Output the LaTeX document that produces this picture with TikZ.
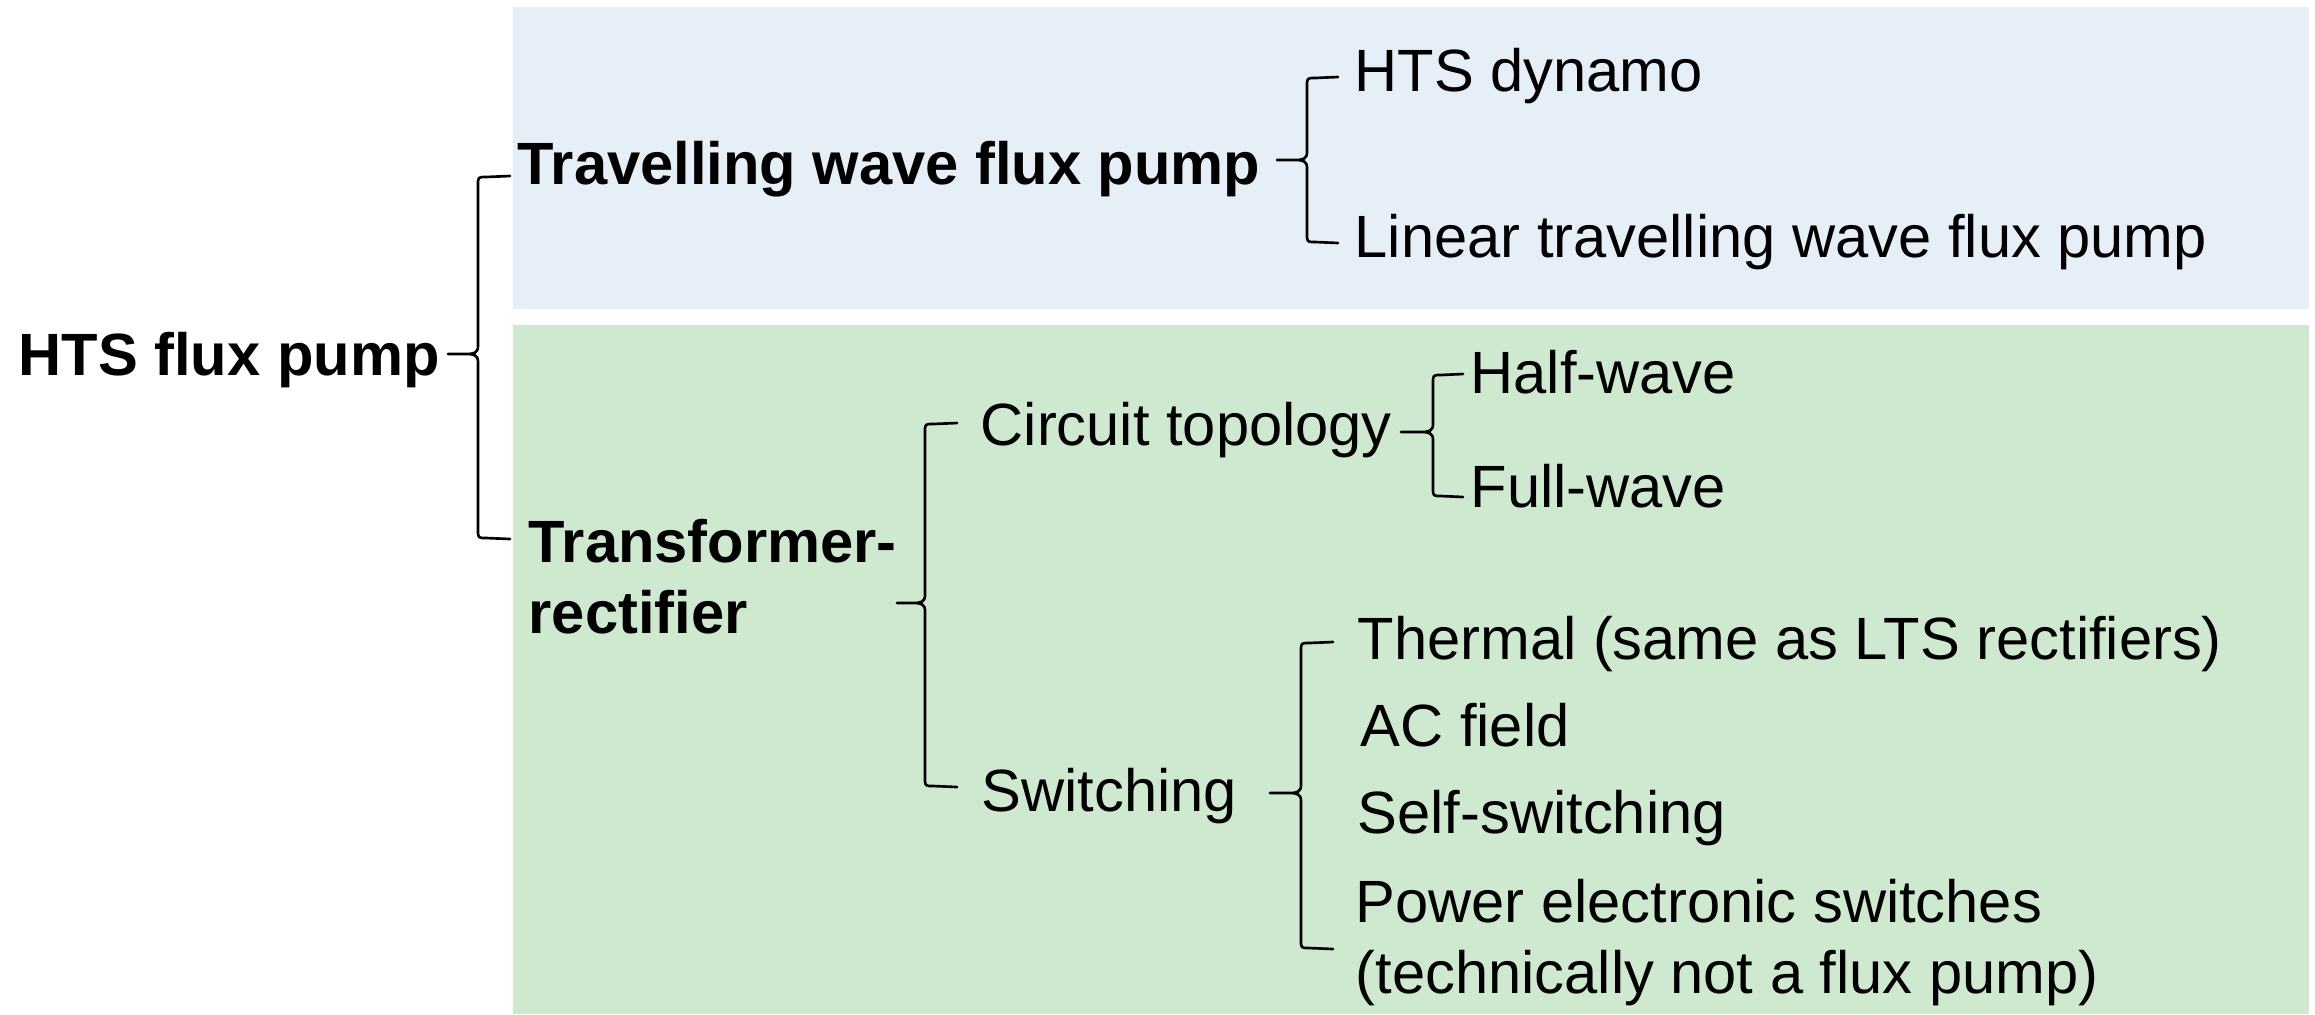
\documentclass[tikz,border=0pt]{standalone}
\usepackage{fontspec}
\setmainfont{Liberation Sans}
\definecolor{bluebg}{RGB}{230,238,248}
\definecolor{greenbg}{RGB}{207,232,208}
\newcommand\mybrace[6]{% xt ym xv yt yb xe
  \draw[bracestroke] (#6,#4) -- (#3+8,#4+1) .. controls (#3,#4+1) .. (#3,#4+9)
    -- (#3,#2-8) .. controls (#3,#2-1) and (#3-4,#2) .. (#3-12,#2) -- (#1,#2)
    (#3-12,#2) .. controls (#3-4,#2) and (#3,#2+1) .. (#3,#2+8)
    -- (#3,#5-9) .. controls (#3,#5-1) .. (#3+8,#5-1) -- (#6,#5);}
\begin{document}
\begin{tikzpicture}[x=0.3pt,y=-0.3pt,
  lbl/.style={anchor=base west, inner sep=0pt, font=\fontsize{17.9}{21.3}\selectfont},
  boldlbl/.style={lbl, font=\fontsize{17.9}{21.3}\selectfont\bfseries},
  bracestroke/.style={line width=0.8pt, line join=round, line cap=round}]
\useasboundingbox (0,0) rectangle (2315,1014);
\fill[bluebg] (513,7) rectangle (2309,309);
\fill[greenbg] (513,325) rectangle (2309,1014);

\node[boldlbl] (root) at (18,375) {HTS flux pump};
\node[boldlbl] (twfp) at (517,184) {Travelling wave flux pump};
\node[boldlbl, align=left] (tr) at (528,633) {Transformer-\\rectifier};
\node[lbl] (dyn) at (1354,91) {HTS dynamo};
\node[lbl] (lin) at (1354,257) {Linear travelling wave flux pump};
\node[lbl] (ct) at (980,445) {Circuit topology};
\node[lbl] (half) at (1470,393) {Half-wave};
\node[lbl] (full) at (1470,507) {Full-wave};
\node[lbl] (sw) at (981,811) {Switching};
\node[lbl] (th) at (1357,659) {Thermal (same as LTS rectifiers)};
\node[lbl] (ac) at (1360,746) {AC field};
\node[lbl] (self) at (1357,833) {Self-switching};
\node[lbl, align=left] (pw) at (1355,993) {Power electronic switches\\(technically not a flux pump)};

\mybrace{448}{354}{478}{176}{539}{510}
\mybrace{1277}{160}{1307}{77}{243}{1338}
\mybrace{1401}{432}{1433}{374}{497}{1463}
\mybrace{897}{603}{925}{423}{787}{957}
\mybrace{1270}{793}{1301}{642}{949}{1333}
\end{tikzpicture}
\end{document}
